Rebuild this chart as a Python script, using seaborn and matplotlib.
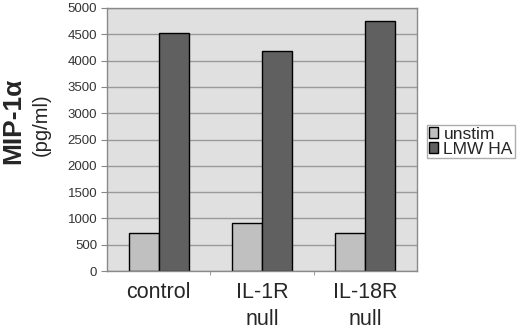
import matplotlib
matplotlib.use("Agg")
import matplotlib.pyplot as plt
import seaborn as sns
import pandas as pd

categories = ["control", "IL-1R\nnull", "IL-18R\nnull"]
series = ["unstim", "LMW HA"]
unstim = [728, 907, 717]
lmw_ha = [4530, 4183, 4753]
colors = ["#c0c0c0", "#606060"]
yticks = list(range(0, 5001, 500))

df = pd.DataFrame({
    "cat": categories * 2,
    "series": [series[0]] * 3 + [series[1]] * 3,
    "value": unstim + lmw_ha,
})

sns.set_style("white")
plt.rcParams["font.family"] = ["Liberation Sans", "DejaVu Sans"]

fig = plt.figure(figsize=(5.2, 3.33), dpi=100)
ax = fig.add_axes([107 / 520, 1 - 271 / 333, 310 / 520, 263 / 333])
ax.set_facecolor("#e0e0e0")

sns.barplot(data=df, x="cat", y="value", hue="series", palette=colors,
            width=0.58, edgecolor="black", linewidth=1.0, ax=ax,
            saturation=1, legend=True)

ax.set_ylim(0, 5000)
ax.set_xlim(-0.5, 2.5)
ax.set_yticks(yticks)
ax.set_yticklabels([str(v) for v in yticks], fontsize=9.5, color="#333333")
ax.yaxis.grid(True, color="#9a9a9a", linewidth=1.0)
ax.set_axisbelow(True)
ax.tick_params(axis="y", length=4, color="#888888", pad=3, left=True)
ax.tick_params(axis="x", length=0, labelsize=15.5, pad=8)
for lab in ax.get_xticklabels():
    lab.set_linespacing(1.35)
ax.set_xticks([0.5, 1.5], minor=True)
ax.tick_params(axis="x", which="minor", length=3, color="#888888", bottom=True)
ax.set_xlabel("")
ax.set_ylabel("")
for s in ax.spines.values():
    s.set_color("#8a8a8a")
    s.set_linewidth(1.0)

handles, labels = ax.get_legend_handles_labels()
ax.legend(handles, labels, loc="upper left", bbox_to_anchor=(427 / 520, 1 - 125 / 333),
          bbox_transform=fig.transFigure, fontsize=12.5, frameon=True, fancybox=False,
          edgecolor="#999999", handlelength=0.55, handleheight=0.55, handletextpad=0.3,
          borderpad=0.1, labelspacing=0.0, borderaxespad=0)

fig.text(13 / 520, 1 - 121 / 333, "MIP-1α", rotation=90, fontsize=19, fontweight="bold",
         ha="center", va="center")
fig.text(41 / 520, 1 - 125 / 333, "(pg/ml)", rotation=90, fontsize=14.5,
         ha="center", va="center")

fig.savefig("out.png", dpi=100)
